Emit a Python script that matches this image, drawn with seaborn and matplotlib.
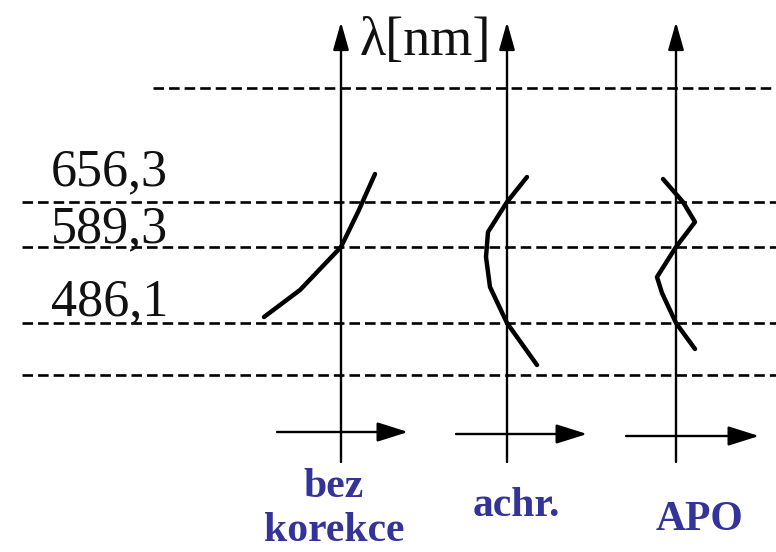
import matplotlib
matplotlib.use("Agg")
import matplotlib.pyplot as plt
import numpy as np
import pandas as pd
import seaborn as sns

# Wavelength lines (labelled) and their vertical level on the diagram
wavelength_labels = ["656,3", "589,3", "486,1"]
wavelength_levels = [202, 247, 323]
# Unlabelled guide lines above and below
extra_levels = [88, 375]

# Correction types (each label may span several lines)
panel_names = [["bez", "korekce"], ["achr."], ["APO"]]

# Focus position (offset from the optical axis) vs. level, one curve per correction type
bez_dx = [-77, -41, 0, 17, 34]
bez_y = [317, 290, 247, 212, 174]
achr_dx = [30, 0, -17, -21, -19, 0, 20]
achr_y = [365, 323, 287, 257, 232, 202, 177]
apo_dx = [19, 0, -14, -19, 0, 19, 7, -13]
apo_y = [349, 323, 293, 277, 247, 222, 202, 179]

# Layout of the canvas (pixels)
W, H = 776, 552
axis_x = [341, 507, 676]
axis_top, axis_bottom = 22, 462
label_baselines = [185, 242, 315]
hor_arrow = [(277, 408, 432), (456, 587, 434), (626, 759, 436)]
name_x = [334, 516, 699]
name_baselines = [[497, 541], [516], [530]]
label_color = "#333399"

sns.set_theme(style="white")
plt.rcParams["font.family"] = ["Liberation Serif", "DejaVu Serif"]

fig = plt.figure(figsize=(W / 100, H / 100), dpi=100)
ax = fig.add_axes([0, 0, 1, 1])

# Dashed horizontal guide lines
dash = dict(color="black", lw=1.9, dashes=(4.0, 1.9))
for lvl in wavelength_levels + [extra_levels[1]]:
    ax.plot([22, W], [lvl, lvl], **dash)
ax.plot([153, W], [extra_levels[0], extra_levels[0]], **dash)

# Wavelength labels
for txt, base in zip(wavelength_labels, label_baselines):
    ax.text(51, base, txt, fontsize=37.5, ha="left", va="baseline",
            color="#111111")

# Vertical optical axes with arrowheads
for x in axis_x:
    ax.annotate("", xy=(x, axis_top), xytext=(x, axis_bottom),
                arrowprops=dict(arrowstyle="-|>,head_length=0.85,head_width=0.24",
                                lw=1.7, color="black", mutation_scale=20,
                                shrinkA=0, shrinkB=0))

# Horizontal arrows under each axis
for x0, x1, y in hor_arrow:
    ax.annotate("", xy=(x1, y), xytext=(x0, y),
                arrowprops=dict(arrowstyle="-|>,head_length=0.95,head_width=0.3",
                                lw=1.7, color="black", mutation_scale=20,
                                shrinkA=0, shrinkB=0))

ax.text(360, 55, "λ[nm]", fontsize=39, ha="left", va="baseline", color="#111111")

# Focus curves
frames = []
for name, cx, dx, yy in zip(["bez korekce", "achr.", "APO"], axis_x,
                            [bez_dx, achr_dx, apo_dx], [bez_y, achr_y, apo_y]):
    frames.append(pd.DataFrame({"panel": name,
                                "x": cx + np.asarray(dx, float),
                                "y": np.asarray(yy, float)}))
curves = pd.concat(frames, ignore_index=True)
sns.lineplot(data=curves, x="x", y="y", units="panel", estimator=None,
             sort=False, color="black", lw=3.2, ax=ax, legend=False,
             solid_capstyle="round", solid_joinstyle="round")

# Correction-type labels
for lines, x, bases in zip(panel_names, name_x, name_baselines):
    for line, base in zip(lines, bases):
        ax.text(x, base, line, fontsize=30, fontweight="bold", color=label_color,
                ha="center", va="baseline")

ax.set_xlim(0, W)
ax.set_ylim(H, 0)
ax.axis("off")

fig.savefig("out.png", dpi=100)
